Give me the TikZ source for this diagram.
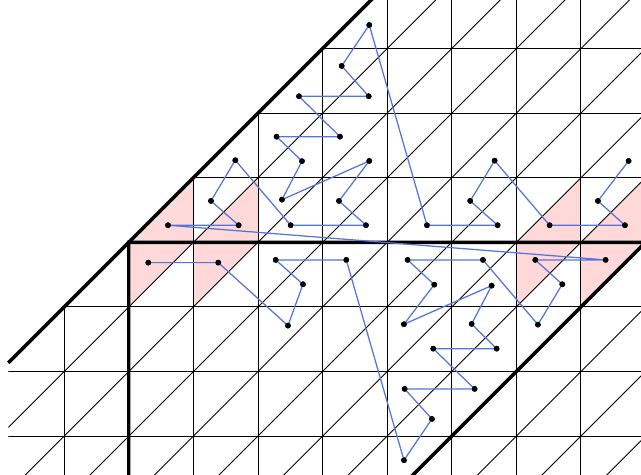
\documentclass[tikz,border=0pt]{standalone}
\begin{document}
\begin{tikzpicture}[x=1cm,y=1cm,
  gridline/.style={line width=0.4pt,black},
  thickline/.style={line width=1.5pt,black,line join=miter},
  pinkfill/.style={fill={rgb,255:red,255;green,217;blue,217}},
  bluepath/.style={line width=0.55pt,draw={rgb,255:red,85;green,115;blue,220}},
  dot/.style={circle,fill=black,inner sep=0pt,minimum size=2.5pt}]
\useasboundingbox (-1.994,-3.601) rectangle (7.930,3.752);
% pink parallelograms
\foreach \a in {0,1,6,7}
  \fill[pinkfill] (\a,-1) -- (\a,0) -- (\a+1,1) -- (\a+1,0) -- cycle;
% thin grid
\begin{scope}
  \clip (-1.865,-3.7) -- (-1.865,-1.865) -- (3.852,3.852) -- (8.1,3.852) -- (8.1,-3.7) -- cycle;
  \foreach \x in {-1,...,8} \draw[gridline] (\x,-3.8) -- (\x,3.9);
  \foreach \y in {-3,...,3} \draw[gridline] (-2.1,\y) -- (8.2,\y);
  \foreach \c in {-12,...,0} \draw[gridline] (-5,-5+\c) -- (13,13+\c);
\end{scope}
% thick boundary
\draw[thickline] (-1.865,-1.865) -- (3.80,3.80);
\draw[thickline] (0,-3.75) -- (0,0) -- (8,0) -- (4.25,-3.75);
% dots
\node[dot] (p1) at (3.723,3.365) {};
\node[dot] (p2) at (3.296,2.731) {};
\node[dot] (p3) at (3.714,2.262) {};
\node[dot] (p4) at (3.269,1.636) {};
\node[dot] (p5) at (3.723,1.260) {};
\node[dot] (p6) at (3.254,0.641) {};
\node[dot] (p7) at (3.672,0.265) {};
\node[dot] (p8) at (4.616,0.265) {};
\node[dot] (p9) at (5.664,1.265) {};
\node[dot] (p10) at (5.286,0.641) {};
\node[dot] (p11) at (5.710,0.265) {};
\node[dot] (p12) at (6.515,0.265) {};
\node[dot] (p13) at (7.738,1.260) {};
\node[dot] (p14) at (7.263,0.641) {};
\node[dot] (p15) at (7.681,0.265) {};
\node[dot] (p16) at (2.635,2.262) {};
\node[dot] (p17) at (2.289,1.636) {};
\node[dot] (p18) at (2.681,1.257) {};
\node[dot] (p19) at (1.649,1.271) {};
\node[dot] (p20) at (1.272,0.641) {};
\node[dot] (p21) at (2.372,0.661) {};
\node[dot] (p22) at (1.701,0.265) {};
\node[dot] (p23) at (0.607,0.265) {};
\node[dot] (p24) at (2.506,0.265) {};
\node[dot] (p25) at (0.302,-0.314) {};
\node[dot] (p26) at (1.385,-0.314) {};
\node[dot] (p27) at (2.274,-0.272) {};
\node[dot] (p28) at (2.697,-0.649) {};
\node[dot] (p29) at (2.464,-1.289) {};
\node[dot] (p30) at (3.367,-0.272) {};
\node[dot] (p31) at (4.317,-0.272) {};
\node[dot] (p32) at (5.483,-0.272) {};
\node[dot] (p33) at (6.293,-0.272) {};
\node[dot] (p34) at (7.382,-0.272) {};
\node[dot] (p35) at (4.729,-0.655) {};
\node[dot] (p36) at (5.618,-0.670) {};
\node[dot] (p37) at (6.711,-0.649) {};
\node[dot] (p38) at (4.260,-1.268) {};
\node[dot] (p39) at (5.308,-1.263) {};
\node[dot] (p40) at (6.334,-1.274) {};
\node[dot] (p41) at (4.714,-1.646) {};
\node[dot] (p42) at (5.695,-1.646) {};
\node[dot] (p43) at (4.271,-2.269) {};
\node[dot] (p44) at (5.354,-2.269) {};
\node[dot] (p45) at (4.693,-2.734) {};
\node[dot] (p46) at (4.260,-3.373) {};
% blue path
\begin{scope}[on background layer/.style={}]
\draw[bluepath] (p25.center) -- (p26.center) -- (p29.center) -- (p28.center) -- (p27.center)
  -- (p30.center) -- (p46.center) -- (p45.center) -- (p43.center) -- (p44.center)
  -- (p41.center) -- (p42.center) -- (p39.center) -- (p36.center) -- (p38.center)
  -- (p35.center) -- (p31.center) -- (p32.center) -- (p40.center) -- (p37.center)
  -- (p33.center) -- (p34.center) -- (p23.center) -- (p22.center) -- (p20.center)
  -- (p19.center) -- (p24.center) -- (p7.center) -- (p6.center) -- (p5.center)
  -- (p21.center) -- (p18.center) -- (p17.center) -- (p4.center) -- (p16.center)
  -- (p3.center) -- (p2.center) -- (p1.center) -- (p8.center) -- (p11.center)
  -- (p10.center) -- (p9.center) -- (p12.center) -- (p15.center) -- (p14.center)
  -- (p13.center);
\end{scope}
% redraw dots on top
\foreach \i in {1,...,46} \fill (p\i.center) circle (1.25pt);
\end{tikzpicture}
\end{document}
